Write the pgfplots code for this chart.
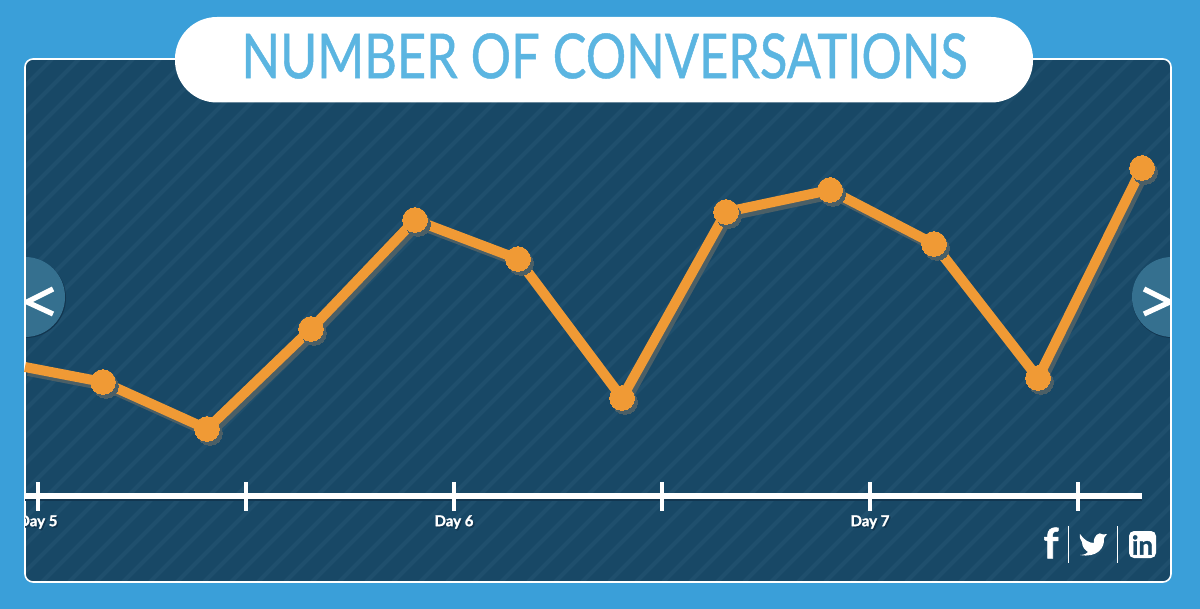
\documentclass[border=0pt]{standalone}
\usepackage{fontspec}
\setmainfont{Lato}
\newfontfamily\titlefont[FakeStretch=0.815,FakeBold=0.7]{Lato}
\newfontfamily\heavyfont[BoldFeatures={FakeBold=1.2}]{Lato}
\usepackage{pgfplots}
\pgfplotsset{compat=1.18}
\definecolor{pagebg}{HTML}{3A9FD9}
\definecolor{panel}{HTML}{184866}
\definecolor{stripe}{HTML}{1F4F6D}
\definecolor{titleblue}{HTML}{5BB5E1}
\definecolor{orangeline}{HTML}{F09A35}
\definecolor{lineshadow}{HTML}{4B5F66}
\definecolor{arrowbtn}{HTML}{35708F}
\definecolor{darkedge}{HTML}{123650}
\pgfplotstableread{
px py
25 367
103 382
207 429
311 329
415 220
518 259
622 398
726 212
830 190
934 244
1038 378
1142 168
}\conv
\pgfplotstableread{
px py
25 496
1142 496
}\timeline
\newcommand{\daylabel}[2]{%
 \node[text=darkedge,font=\heavyfont\bfseries\fontsize{7.5}{8}\selectfont] at (axis cs:#1+1.5,523.5) {#2};
 \node[text=white,font=\heavyfont\bfseries\fontsize{7.5}{8}\selectfont] at (axis cs:#1,522) {#2};
}
\begin{document}
\begin{tikzpicture}
\begin{axis}[
 scale only axis,width=600pt,height=304.5pt,
 xmin=0,xmax=1200,ymin=0,ymax=609,y dir=reverse,
 hide axis,clip=false]
% page and panel
\fill[pagebg] (axis cs:0,0) rectangle (axis cs:1200,609);
\begin{scope}
\path[clip,rounded corners=4pt] (axis cs:25,59) rectangle (axis cs:1171,582);
\fill[panel] (axis cs:25,59) rectangle (axis cs:1171,582);
\pgfplotsinvokeforeach{0,1,...,62}{
 \draw[stripe,line width=2pt] (axis cs:{#1*27-498},582) -- (axis cs:{#1*27+25},59);
}
\fill[darkedge] (axis cs:26,298) circle[radius=20pt];
\fill[darkedge] (axis cs:1172,298) circle[radius=20pt];
\fill[arrowbtn] (axis cs:25,297) circle[radius=20pt];
\fill[arrowbtn] (axis cs:1172,297) circle[radius=20pt];
\draw[white,line width=2.6pt] (axis cs:53,289) -- (axis cs:27,302) -- (axis cs:53,314);
\draw[white,line width=2.6pt] (axis cs:1144,289) -- (axis cs:1170,302) -- (axis cs:1144,314);
\end{scope}
\draw[white,line width=.8pt,rounded corners=4pt] (axis cs:25,59) rectangle (axis cs:1171,582);
% title pill
\fill[white,rounded corners=21pt] (axis cs:175,17) rectangle (axis cs:1033,102.5);
\node[text=titleblue,font=\titlefont\fontsize{31}{31}\selectfont] at (axis cs:604.5,56) {NUMBER OF CONVERSATIONS};
% time axis
\addplot[darkedge,line width=2.6pt,yshift=-1pt,forget plot] table[x=px,y=py] {\timeline};
\addplot[white,line width=2.6pt,forget plot] table[x=px,y=py] {\timeline};
\pgfplotsinvokeforeach{38,246,454,662,870,1078}{
 \draw[white,line width=2.4pt] (axis cs:#1,482) -- (axis cs:#1,511);
}
\addplot[lineshadow,line width=5pt,xshift=1.5pt,yshift=-2pt,mark=*,mark indices={2,...,12},mark size=6.2pt,mark options={fill=lineshadow,draw=lineshadow,line width=0pt},forget plot] table[x=px,y=py] {\conv};
\addplot[orangeline,line width=5pt,mark=*,mark indices={2,...,12},mark size=6.2pt,mark options={fill=orangeline,draw=orangeline,line width=0pt},forget plot] table[x=px,y=py] {\conv};
\begin{scope}
\path[clip] (axis cs:25,59) rectangle (axis cs:1171,582);
\daylabel{38}{Day 5}
\daylabel{454}{Day 6}
\daylabel{870}{Day 7}
\end{scope}
% social icons
\node[text=white,font=\heavyfont\bfseries\fontsize{21}{21}\selectfont] at (axis cs:1051,543) {f};
\draw[white,line width=.4pt] (axis cs:1068,526) -- (axis cs:1068,563);
\draw[white,line width=.4pt] (axis cs:1117,526) -- (axis cs:1117,563);
\fill[white] (axis cs:1080,534) .. controls (axis cs:1084,540) and (axis cs:1089,543) .. (axis cs:1094,543)
 .. controls (axis cs:1093,536) and (axis cs:1099,531) .. (axis cs:1103,534.5)
 -- (axis cs:1107,534) -- (axis cs:1104,538)
 .. controls (axis cs:1105,548) and (axis cs:1097,558) .. (axis cs:1080,555)
 .. controls (axis cs:1085,555) and (axis cs:1087,553) .. (axis cs:1088,552)
 .. controls (axis cs:1085,550) and (axis cs:1082,547) .. (axis cs:1082,542)
 .. controls (axis cs:1081,540) and (axis cs:1079,538) .. (axis cs:1080,534) -- cycle;
\fill[white,rounded corners=2.5pt] (axis cs:1129,531) rectangle (axis cs:1156,558);
\node[text=panel,font=\heavyfont\bfseries\fontsize{13}{13}\selectfont] at (axis cs:1142.5,545) {in};
\end{axis}
\pgfresetboundingbox
\path (current axis.south west) rectangle (current axis.north east);
\end{tikzpicture}
\end{document}
